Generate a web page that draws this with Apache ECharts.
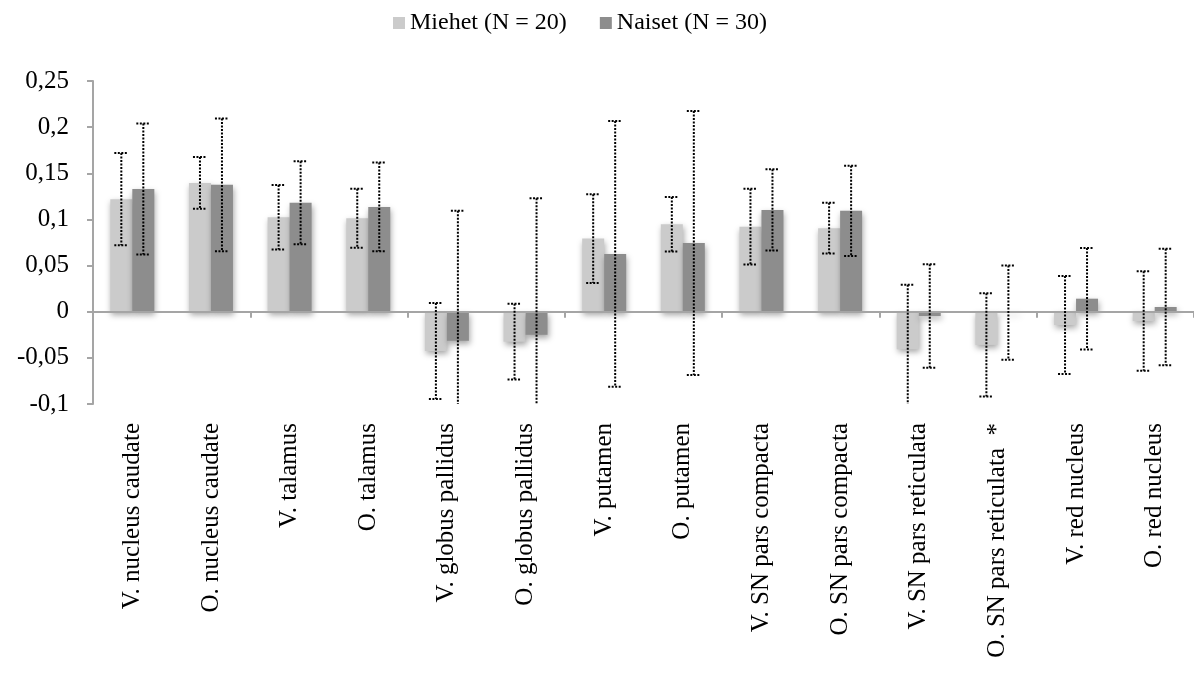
<!DOCTYPE html>
<html>
<head>
<meta charset="utf-8">
<script src="https://cdn.jsdelivr.net/npm/echarts@6/dist/echarts.min.js"></script>
<style>
html,body{margin:0;padding:0;background:#fff;}
#chart{width:1194px;height:676px;}
</style>
</head>
<body>
<div id="chart"></div>
<script>
const categories = ['V. nucleus caudate','O. nucleus caudate','V. talamus','O. talamus','V. globus pallidus','O. globus pallidus','V. putamen','O. putamen','V. SN pars compacta','O. SN pars compacta','V. SN pars reticulata','O. SN pars reticulata  *','V. red nucleus','O. red nucleus'];
const seriesNames = ['Miehet (N = 20)', 'Naiset (N = 30)'];
const miehetValues = [0.122, 0.1396, 0.1024, 0.1013, -0.0426, -0.0325, 0.0792, 0.0948, 0.0922, 0.0905, -0.0408, -0.036, -0.0144, -0.0101];
const miehetErrors = [0.050, 0.028, 0.035, 0.032, 0.052, 0.041, 0.048, 0.0295, 0.041, 0.0275, 0.070, 0.056, 0.053, 0.054];
const naisetValues = [0.133, 0.1375, 0.118, 0.1136, -0.0315, -0.025, 0.0626, 0.0745, 0.1103, 0.1093, -0.0047, -0.001, 0.0141, 0.0051];
const naisetErrors = [0.071, 0.072, 0.045, 0.048, 0.141, 0.148, 0.144, 0.143, 0.044, 0.049, 0.056, 0.051, 0.055, 0.063];
const yTicks = [-0.1, -0.05, 0, 0.05, 0.1, 0.15, 0.2, 0.25];
const yTickLabels = ['-0,1', '-0,05', '0', '0,05', '0,1', '0,15', '0,2', '0,25'];

const FONT = '"Liberation Serif", "Times New Roman", serif';
const Y_MIN = -0.1, Y_MAX = 0.25;
const BAR_W = 22;

function errData(values, errs) {
  return values.map((v, i) => [i, v - errs[i], v + errs[i]]);
}

function makeErrRender(offset) {
  return function (params, api) {
    const idx = api.value(0);
    let lo = api.value(1), hi = api.value(2);
    const loClamped = lo < Y_MIN, hiClamped = hi > Y_MAX;
    lo = Math.max(lo, Y_MIN); hi = Math.min(hi, Y_MAX);
    const pLo = api.coord([idx, lo]);
    const pHi = api.coord([idx, hi]);
    const x = pLo[0] + offset;
    const cap = 7;
    const style = { stroke: '#000', lineWidth: 2, lineDash: [2, 1.5], fill: null };
    const children = [
      { type: 'line', shape: { x1: x, y1: pHi[1], x2: x, y2: pLo[1] }, style: style }
    ];
    if (!hiClamped) children.push({ type: 'line', shape: { x1: x - cap, y1: pHi[1], x2: x + cap, y2: pHi[1] }, style: style });
    if (!loClamped) children.push({ type: 'line', shape: { x1: x - cap, y1: pLo[1], x2: x + cap, y2: pLo[1] }, style: style });
    return { type: 'group', children: children };
  };
}

const chart = echarts.init(document.getElementById('chart'), null, { renderer: 'canvas' });
const barShadow = { shadowBlur: 6, shadowOffsetX: 1, shadowOffsetY: 3, shadowColor: 'rgba(0,0,0,0.35)' };

chart.setOption({
  animation: false,
  backgroundColor: '#ffffff',
  textStyle: { fontFamily: FONT },
  legend: {
    top: 6,
    left: 388,
    icon: 'rect',
    itemWidth: 12,
    itemHeight: 12,
    itemGap: 33,
    textStyle: { fontFamily: FONT, fontSize: 24, color: '#000' },
    data: seriesNames
  },
  grid: { left: 93, top: 81, width: 1106, height: 323 },
  xAxis: [
    {
      type: 'category',
      data: categories,
      position: 'bottom',
      axisLine: { show: false, onZero: false },
      axisTick: { show: false },
      axisLabel: { rotate: 90, interval: 0, margin: 19, fontFamily: FONT, fontSize: 25, color: '#000' },
      splitLine: { show: false }
    },
    {
      type: 'category',
      data: categories,
      position: 'bottom',
      z: 3,
      axisLine: { show: true, onZero: true, onZeroAxisIndex: 0, lineStyle: { color: '#a5a5a5', width: 2 } },
      axisTick: { show: true, length: 6, inside: false, alignWithLabel: false, lineStyle: { color: '#a5a5a5', width: 2 } },
      axisLabel: { show: false },
      splitLine: { show: false }
    }
  ],
  yAxis: {
    type: 'value',
    min: Y_MIN,
    max: Y_MAX,
    interval: 0.05,
    axisLine: { show: true, lineStyle: { color: '#a5a5a5', width: 2 } },
    axisTick: { show: true, length: 6, lineStyle: { color: '#a5a5a5', width: 2 } },
    splitLine: { show: false },
    axisLabel: {
      margin: 24,
      fontFamily: FONT,
      fontSize: 25,
      color: '#000',
      formatter: function (v) {
        for (let i = 0; i < yTicks.length; i++) {
          if (Math.abs(yTicks[i] - v) < 1e-9) return yTickLabels[i];
        }
        return '';
      }
    }
  },
  series: [
    {
      name: seriesNames[0], type: 'bar', xAxisIndex: 0, data: miehetValues,
      barWidth: BAR_W, barGap: '0%',
      itemStyle: Object.assign({ color: '#cbcbcb' }, barShadow)
    },
    {
      name: seriesNames[1], type: 'bar', xAxisIndex: 0, data: naisetValues,
      barWidth: BAR_W, barGap: '0%',
      itemStyle: Object.assign({ color: '#8d8d8d' }, barShadow)
    },
    {
      type: 'custom', xAxisIndex: 0, z: 5,
      renderItem: makeErrRender(-BAR_W / 2),
      data: errData(miehetValues, miehetErrors),
      encode: { x: 0, y: [1, 2] },
      silent: true
    },
    {
      type: 'custom', xAxisIndex: 0, z: 5,
      renderItem: makeErrRender(BAR_W / 2),
      data: errData(naisetValues, naisetErrors),
      encode: { x: 0, y: [1, 2] },
      silent: true
    }
  ]
});
</script>
</body>
</html>
